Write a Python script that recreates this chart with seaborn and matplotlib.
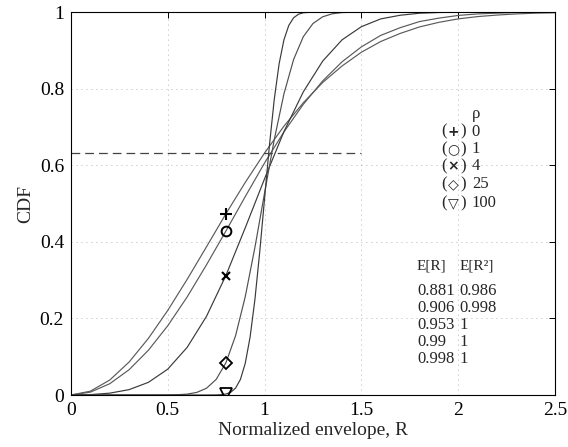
import numpy as np
import pandas as pd
import matplotlib
matplotlib.use("Agg")
import matplotlib.pyplot as plt
import seaborn as sns

# ---------------- data ----------------
r_grid = [0.0, 0.1, 0.2, 0.3, 0.4, 0.5, 0.6, 0.7, 0.8, 0.9, 1.0, 1.1, 1.2,
          1.3, 1.4, 1.5, 1.6, 1.7, 1.8, 1.9, 2.0, 2.1, 2.2, 2.3, 2.4, 2.5]
cdf_rho0 = [0.0, 0.010, 0.039, 0.086, 0.148, 0.221, 0.302, 0.387, 0.473, 0.555,
            0.632, 0.702, 0.763, 0.816, 0.859, 0.895, 0.923, 0.944, 0.961, 0.973,
            0.982, 0.988, 0.992, 0.995, 0.997, 0.998]
cdf_rho1 = [0.0, 0.0074, 0.0294, 0.066, 0.117, 0.181, 0.256, 0.340, 0.428, 0.518,
            0.606, 0.687, 0.759, 0.820, 0.870, 0.909, 0.939, 0.959, 0.975, 0.984,
            0.991, 0.995, 0.997, 0.9987, 0.9994, 0.9997]
cdf_rho4 = [0.0, 0.0010, 0.0048, 0.0140, 0.0331, 0.0676, 0.1244, 0.2055, 0.3119, 0.4365,
            0.5649, 0.6878, 0.7915, 0.8718, 0.9273, 0.9617, 0.9820, 0.9915, 0.9968, 0.9987,
            0.9995, 0.9999, 1.0, 1.0, 1.0, 1.0]

r_rho25 = [0.0, 0.4, 0.5, 0.55, 0.6, 0.65, 0.7, 0.75, 0.8, 0.85, 0.9, 0.95, 1.0,
           1.05, 1.1, 1.15, 1.2, 1.25, 1.3, 1.35, 1.4, 1.5, 1.6, 2.5]
cdf_rho25 = [0.0, 0.00001, 0.0002, 0.0007, 0.0023, 0.0068, 0.0177, 0.0408, 0.0840,
             0.1547, 0.2566, 0.3854, 0.5279, 0.6672, 0.7865, 0.8763, 0.9356, 0.9700,
             0.9875, 0.9954, 0.9985, 0.9999, 1.0, 1.0]

r_rho100 = [0.0, 0.7, 0.75, 0.775, 0.8, 0.825, 0.85, 0.875, 0.9, 0.925, 0.95, 0.975,
            1.0, 1.025, 1.05, 1.075, 1.1, 1.125, 1.15, 1.175, 1.2, 1.25, 1.3, 2.5]
cdf_rho100 = [0.0, 0.00001, 0.0002, 0.0008, 0.0025, 0.0071, 0.0179, 0.0406, 0.0826,
              0.1510, 0.2494, 0.3743, 0.5141, 0.6521, 0.7724, 0.8649, 0.9276, 0.9651,
              0.9850, 0.9942, 0.9980, 0.9998, 1.0, 1.0]

rho_values = ["0", "1", "4", "25", "100"]
marker_r = 0.8
marker_cdf = [0.473, 0.428, 0.312, 0.084, 0.0025]
legend_symbols = ["+", "○", "×", "◇", "▽"]

mean_R = ["0.881", "0.906", "0.953", "0.99", "0.998"]
mean_R2 = ["0.986", "0.998", "1", "1", "1"]

ref_level = 0.632
ref_x = [0.0, 1.5]

# ---------------- build long table ----------------
frames = []
for rho, xs, ys in [("0", r_grid, cdf_rho0), ("1", r_grid, cdf_rho1),
                    ("4", r_grid, cdf_rho4), ("25", r_rho25, cdf_rho25),
                    ("100", r_rho100, cdf_rho100)]:
    frames.append(pd.DataFrame({"R": xs, "CDF": ys, "rho": rho}))
df = pd.concat(frames, ignore_index=True)

# ---------------- style ----------------
sns.set_theme(style="white")
plt.rcParams["font.family"] = ["Liberation Serif", "DejaVu Serif", "DejaVu Sans"]
plt.rcParams["axes.edgecolor"] = "black"
plt.rcParams["axes.linewidth"] = 0.8

fig = plt.figure(figsize=(5.68, 4.47), dpi=100)
ax = fig.add_axes([71 / 568, 1 - 395 / 447, (555 - 71) / 568, (395 - 12) / 447])

line_colors = {"0": "#5a5a5a", "1": "#5a5a5a", "4": "#3a3a3a", "25": "#505050", "100": "#3a3a3a"}
sns.lineplot(data=df, x="R", y="CDF", hue="rho", palette=line_colors,
             estimator=None, sort=False, legend=False, linewidth=0.85, ax=ax)

# reference dashed line at 1 - 1/e
sns.lineplot(x=ref_x, y=[ref_level, ref_level], color="#444444", linewidth=0.9,
             dashes=False, ax=ax).lines[-1].set_dashes([7, 4])

# markers at R = 0.8
mstyles = [("+", dict(markersize=8, markeredgewidth=1.5)),
           ("o", dict(markersize=7, markeredgewidth=1.4, markerfacecolor="none")),
           ("x", dict(markersize=6, markeredgewidth=1.5)),
           ("D", dict(markersize=6, markeredgewidth=1.3, markerfacecolor="none")),
           ("v", dict(markersize=8, markeredgewidth=1.3, markerfacecolor="none"))]
for (m, kw), v in zip(mstyles, marker_cdf):
    sns.lineplot(x=[marker_r], y=[v], marker=m, linestyle="none", color="black",
                 markeredgecolor="black", ax=ax, **kw)

# axes
ax.set_xlim(0, 2.5)
ax.set_ylim(0, 1)
ax.set_xticks([0, 0.5, 1, 1.5, 2, 2.5])
ax.set_xticklabels(["0", "0.5", "1", "1.5", "2", "2.5"])
ax.set_yticks([0, 0.2, 0.4, 0.6, 0.8, 1])
ax.set_yticklabels(["0", "0.2", "0.4", "0.6", "0.8", "1"])
ax.tick_params(direction="in", length=4, width=0.7, top=True, right=True,
               labelsize=14, colors="black", pad=5)
ax.grid(True, color="#9a9a9a", linestyle=(0, (1, 5)), linewidth=0.6)
for s in ax.spines.values():
    s.set_visible(True)
    s.set_color("black")
ax.set_xlabel("Normalized envelope, R", fontsize=14, labelpad=2)
ax.set_ylabel("CDF", fontsize=14, labelpad=4)

# legend-like annotation
tx_open = 1.915
tx_num = 2.07
ys_leg = [0.687, 0.642, 0.598, 0.551, 0.501]
ax.text(tx_num, 0.734, "ρ", fontsize=12, va="center", ha="left")
for sym, val, y in zip(legend_symbols, rho_values, ys_leg):
    ax.text(tx_open, y, "(", fontsize=12, va="center", ha="left")
    ax.text(tx_open + 0.06, y, sym, fontsize=10, va="center", ha="center",
            fontweight="bold", family=["DejaVu Sans"])
    ax.text(tx_open + 0.095, y, ")", fontsize=12, va="center", ha="left")
    ax.text(tx_num, y, val, fontsize=12, va="center", ha="left")

# table of moments
c1, c2 = 1.787, 2.005
ax.text(c1, 0.337, "E[R]", fontsize=11, va="center", ha="left")
ax.text(c2, 0.337, "E[R²]", fontsize=11, va="center", ha="left")
for i, (a, b) in enumerate(zip(mean_R, mean_R2)):
    y = 0.272 - i * 0.0445
    ax.text(c1, y, a, fontsize=12, va="center", ha="left")
    ax.text(c2, y, b, fontsize=12, va="center", ha="left")

fig.savefig("out.png", dpi=100)
